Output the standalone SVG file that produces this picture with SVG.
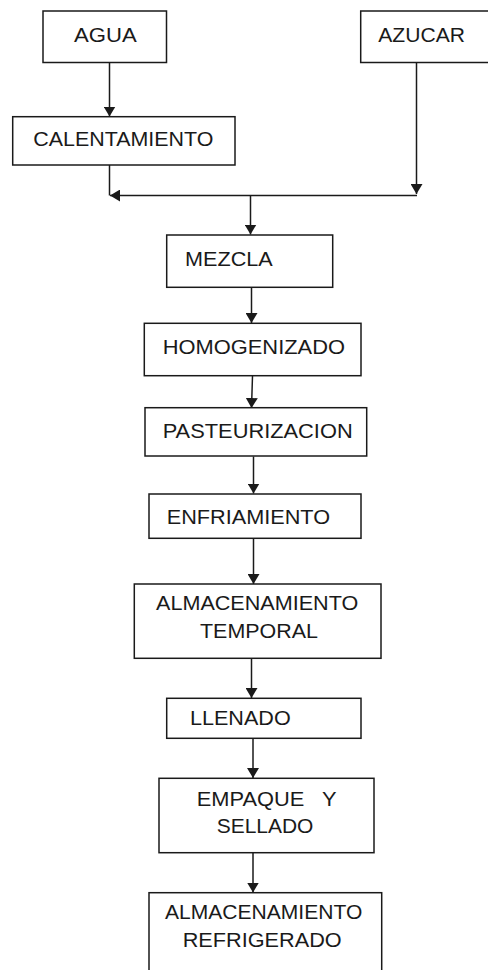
<svg xmlns="http://www.w3.org/2000/svg" width="488" height="970" viewBox="0 0 488 970">
<style>
.box{fill:#fff;stroke:#1a1a1a;stroke-width:1.5}
.t{font-family:"Liberation Sans",Arial,sans-serif;font-size:19.5px;fill:#1a1a1a;white-space:pre}
.c{fill:none;stroke:#1a1a1a;stroke-width:1.5}
</style>
<defs>
<marker id="ah" viewBox="0 0 10 12" refX="10" refY="6" markerWidth="10" markerHeight="12" markerUnits="userSpaceOnUse" orient="auto">
<path d="M0,0 L10,6 L0,12 Z" fill="#1a1a1a"/>
</marker>
</defs>
<rect width="488" height="970" fill="#fff"/>
<g id="connectors">
<path class="c" d="M109.5,62.5 V116.5" marker-end="url(#ah)"/>
<path class="c" d="M109.5,165 V195.5"/>
<path class="c" d="M417,195.5 H110" marker-end="url(#ah)"/>
<path class="c" d="M416.5,62.5 V194" marker-end="url(#ah)"/>
<path class="c" d="M250.5,195.5 V234.5" marker-end="url(#ah)"/>
<path class="c" d="M251.5,287.5 V323" marker-end="url(#ah)"/>
<path class="c" d="M252.5,376 L251.5,408" marker-end="url(#ah)"/>
<path class="c" d="M253.5,456.5 V493.5" marker-end="url(#ah)"/>
<path class="c" d="M253.5,538.5 V584" marker-end="url(#ah)"/>
<path class="c" d="M251.5,658.5 V698" marker-end="url(#ah)"/>
<path class="c" d="M253,738.5 V778" marker-end="url(#ah)"/>
<path class="c" d="M253,853 V892.5" marker-end="url(#ah)"/>
</g>
<g id="agua"><rect class="box" x="43" y="11" width="123.5" height="51.5"/><text class="t" x="74" y="41.7" textLength="62.7" lengthAdjust="spacingAndGlyphs">AGUA</text></g>
<g id="azucar"><rect class="box" x="360.7" y="11" width="130" height="51.5"/><text class="t" x="378.3" y="41.7" textLength="86.7" lengthAdjust="spacingAndGlyphs">AZUCAR</text></g>
<g id="calentamiento"><rect class="box" x="12.7" y="116.7" width="222.3" height="48.3"/><text class="t" x="33.3" y="146" textLength="180" lengthAdjust="spacingAndGlyphs">CALENTAMIENTO</text></g>
<g id="mezcla"><rect class="box" x="166.7" y="235" width="166" height="52.3"/><text class="t" x="185" y="265.7" textLength="87.7" lengthAdjust="spacingAndGlyphs">MEZCLA</text></g>
<g id="homogenizado"><rect class="box" x="144.3" y="323.3" width="216.7" height="52.4"/><text class="t" x="162.7" y="354" textLength="182.3" lengthAdjust="spacingAndGlyphs">HOMOGENIZADO</text></g>
<g id="pasteurizacion"><rect class="box" x="145" y="407.7" width="221.7" height="48.3"/><text class="t" x="162.7" y="438.3" textLength="190" lengthAdjust="spacingAndGlyphs">PASTEURIZACION</text></g>
<g id="enfriamiento"><rect class="box" x="149" y="494" width="212" height="44.3"/><text class="t" x="166.7" y="524" textLength="163.3" lengthAdjust="spacingAndGlyphs">ENFRIAMIENTO</text></g>
<g id="almacenamiento-temporal"><rect class="box" x="134.3" y="584" width="246.7" height="74.3"/><text class="t" x="156" y="610" textLength="202.3" lengthAdjust="spacingAndGlyphs">ALMACENAMIENTO</text><text class="t" x="200" y="638.3" textLength="118" lengthAdjust="spacingAndGlyphs">TEMPORAL</text></g>
<g id="llenado"><rect class="box" x="166.7" y="698.3" width="194.3" height="40"/><text class="t" x="190" y="725" textLength="100.7" lengthAdjust="spacingAndGlyphs">LLENADO</text></g>
<g id="empaque"><rect class="box" x="159" y="778.3" width="215" height="74.4"/><text class="t" x="196.7" y="806" textLength="140" lengthAdjust="spacingAndGlyphs">EMPAQUE   Y</text><text class="t" x="216.7" y="833.3" textLength="96.7" lengthAdjust="spacingAndGlyphs">SELLADO</text></g>
<g id="almacenamiento-refrigerado"><rect class="box" x="149" y="892.7" width="232.7" height="90"/><text class="t" x="165" y="919.3" textLength="197.3" lengthAdjust="spacingAndGlyphs">ALMACENAMIENTO</text><text class="t" x="182.7" y="946.7" textLength="159" lengthAdjust="spacingAndGlyphs">REFRIGERADO</text></g>
</svg>
